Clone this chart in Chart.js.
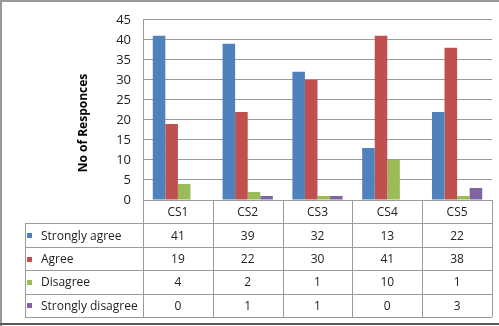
<!DOCTYPE html>
<html>
<head>
<meta charset="utf-8">
<script src="https://cdn.jsdelivr.net/npm/chart.js@4.4.1/dist/chart.umd.min.js"></script>
<style>
  html, body { margin: 0; padding: 0; background: #fff; }
  #wrap { width: 499px; height: 326px; }
</style>
</head>
<body>
<div id="wrap"><canvas id="chart" width="499" height="326"></canvas></div>
<script>
const categories = ['CS1', 'CS2', 'CS3', 'CS4', 'CS5'];
const stronglyAgree = [41, 39, 32, 13, 22];
const agree = [19, 22, 30, 41, 38];
const disagree = [4, 2, 1, 10, 1];
const stronglyDisagree = [0, 1, 1, 0, 3];
const seriesNames = ['Strongly agree', 'Agree', 'Disagree', 'Strongly disagree'];
const seriesColors = ['#4f81bd', '#c0504d', '#9bbb59', '#8064a2'];
const yMax = 45;
const yStep = 5;
const yTitle = 'No of Responces';

Chart.defaults.font.family = "'Open Sans', 'DejaVu Sans', sans-serif";
Chart.defaults.font.size = 12;
Chart.defaults.color = '#222';

const gridColor = '#9a9a9a';
const rowH = 23.4;

// data table under the plot, columns follow the x scale
const tablePlugin = {
  id: 'dataTable',
  afterDraw(chart) {
    const ctx = chart.ctx;
    const x = chart.scales.x;
    const area = chart.chartArea;
    const colW = (area.right - area.left) / categories.length;
    const top = area.bottom;
    const left = 25;
    const rows = [stronglyAgree, agree, disagree, stronglyDisagree];
    const bottom = top + rowH * (rows.length + 1);

    ctx.save();
    ctx.strokeStyle = gridColor;
    ctx.lineWidth = 1;
    ctx.beginPath();
    // column lines
    for (let i = 0; i <= categories.length; i++) {
      const px = Math.round(area.left + colW * i) + 0.5;
      ctx.moveTo(px, top);
      ctx.lineTo(px, bottom);
    }
    ctx.moveTo(left + 0.5, top + rowH);
    ctx.lineTo(left + 0.5, bottom);
    // row lines
    for (let r = 1; r <= rows.length + 1; r++) {
      const py = Math.round(top + rowH * r) + 0.5;
      ctx.moveTo(left, py);
      ctx.lineTo(area.right, py);
    }
    ctx.stroke();

    ctx.fillStyle = '#222';
    ctx.font = "12px 'Open Sans', sans-serif";
    ctx.textAlign = 'center';
    ctx.textBaseline = 'middle';
    categories.forEach((c, i) => {
      const cx = x.getPixelForValue(i);
      ctx.fillText(c, cx, top + rowH / 2 + 1);
      rows.forEach((vals, r) => {
        ctx.fillText(String(vals[i]), cx, top + rowH * (r + 1.5) + 1);
      });
    });

    ctx.textAlign = 'left';
    seriesNames.forEach((name, r) => {
      const cy = top + rowH * (r + 1.5) + 1;
      ctx.fillStyle = seriesColors[r];
      ctx.fillRect(27, Math.round(cy - 3), 5, 5);
      ctx.fillStyle = '#222';
      ctx.fillText(name, 41, cy);
    });

    // axis title
    ctx.translate(84, 123);
    ctx.rotate(-Math.PI / 2);
    ctx.textAlign = 'center';
    ctx.font = "bold 12px 'Open Sans', sans-serif";
    ctx.fillStyle = '#000';
    ctx.fillText(yTitle, 0, 0);
    ctx.restore();

    // outer frame: light top/left, darker bottom, open on the right
    ctx.save();
    ctx.fillStyle = '#9a9a9a';
    ctx.fillRect(0, 0, chart.width, 2);
    ctx.fillRect(0, 0, 2, chart.height);
    ctx.fillStyle = '#5a5a5a';
    ctx.fillRect(0, 323, chart.width, 2);
    ctx.restore();
  }
};

new Chart(document.getElementById('chart'), {
  type: 'bar',
  data: {
    labels: categories,
    datasets: [stronglyAgree, agree, disagree, stronglyDisagree].map((d, i) => ({
      label: seriesNames[i],
      data: d,
      backgroundColor: seriesColors[i],
      borderWidth: 0,
      barPercentage: 1,
      categoryPercentage: 0.72
    }))
  },
  options: {
    responsive: false,
    animation: false,
    layout: { padding: { left: 0, top: 18, right: 7, bottom: 126 } },
    plugins: { legend: { display: false }, tooltip: { enabled: false } },
    scales: {
      x: { display: false },
      y: {
        min: 0,
        max: yMax,
        afterFit(scale) { scale.width = 143; },
        ticks: { stepSize: yStep, padding: 12, font: { size: 13 }, color: '#222' },
        grid: { color: gridColor, drawTicks: false },
        border: { display: true, color: gridColor }
      }
    }
  },
  plugins: [tablePlugin]
});
</script>
</body>
</html>
